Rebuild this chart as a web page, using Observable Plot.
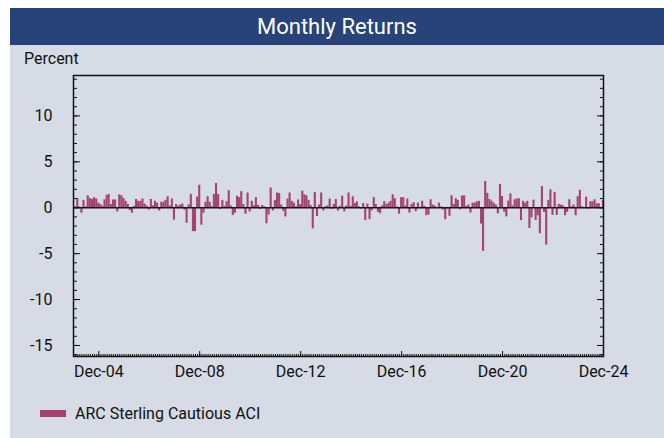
<!DOCTYPE html>
<html><head><meta charset="utf-8">
<script src="https://cdn.jsdelivr.net/npm/d3@7"></script>
<script src="https://cdn.jsdelivr.net/npm/@observablehq/plot@0.6"></script>
<style>
html,body{margin:0;padding:0;background:#fff;}
#wrap{position:relative;width:664px;height:438px;overflow:hidden;font-family:Roboto,"Liberation Sans",sans-serif;color:#111;}
#panel{position:absolute;left:10px;top:8px;width:654px;height:430px;background:#d6dbe5;}
#title{position:absolute;left:10px;top:8px;width:654px;height:37px;background:#27437a;color:#fff;font-family:Roboto,sans-serif;font-size:22px;line-height:37px;text-align:center;}
#ylab{position:absolute;left:24px;top:49px;font-size:16px;}
#chart{position:absolute;left:0;top:45px;}
#legend{position:absolute;left:40px;top:404px;font-size:16px;display:flex;align-items:center;}
#legend .sw{width:26px;height:7px;background:#a3416f;margin-right:9px;}
</style></head>
<body><div id="wrap">
<div id="panel"></div>
<div id="title">Monthly Returns</div>
<div id="ylab">Percent</div>
<div id="chart"></div>
<div id="legend"><div class="sw"></div><span>ARC Sterling Cautious ACI</span></div>
</div>
<script>
const seriesName = "ARC Sterling Cautious ACI";
// monthly returns (%), Dec 2003 .. Dec 2024
const returns = [
 -0.2, 0.1, 1.0, 0.1, -0.6, 0.8, 0.1, 1.3, 1.0, 0.9, 1.1, 0.95, 0.5, 0.35, 0.15, 0.85, 1.35, 1.45, 0.35, 0.85, 0.85, -0.45, 1.4, 1.3, 1.0, 0.7, 0.35, -0.3, -0.6, 0.15, 0.9, 0.7, 0.7, 0.95, 0.4, 0.2, -0.25, 0.9, 0.2, 0.7, 0.5, -0.35, 0.6, 0.6, 0.8, 1.2, 0.2, 0.95, -1.35, 0.35, 0.15,
 0.3, 0.4, -0.25, -1.7, 0.3, 1.45, -2.6, -2.6, 1.15, 2.45, -1.9, -0.6, 0.6, 1.2, 0.6, 0.1, 1.45, 2.65, 1.45, -0.2, 0.8, 0.15, 0.65, 1.85, 0.2, -0.85, -0.6, 1.25, 1.1, 1.75, 0.35, -0.7, 1.6, -0.45, 0.7, 0.2, 1.1, 0.25, -0.2, 0.25, 0.1, -1.75, -0.8, 2.15, -0.35, 0.8, 1.6, 1.55, 0.3, -0.4, -1.0,
 0.95, 1.6, 0.7, 0.5, 0.1, 0.85, 0.35, 1.8, 1.4, 1.3, 0.8, 0.25, -2.3, 1.65, -0.95, 0.3, 1.6, -0.35, 0.1, 0.2, 0.95, -0.2, 0.35, 0.9, -0.35, 0.15, 1.25, -0.45, 0.2, 1.6, 0.15, 1.2, 0.45, 0.65, 0.1, -0.15, 0.45, -1.4, 0.4, -1.3, -0.35, 1.1, 0.35, -0.5, -0.65, 0.2, 0.65, 0.35, 0.5, 0.7, 1.4,
 0.98, 0.1, -0.7, 1.1, 1.1, 0.2, 0.95, -0.58, 0.36, 0.54, -0.43, 0.5, -0.1, 0.7, 0.15, -0.87, -0.8, 0.87, 0.3, 0.2, -0.1, 0.5, 0.1, -0.25, -1.3, -0.15, -0.94, 1.3, 0.36, 0.98, 0.8, -0.22, 1.27, 1.3, 0.15, 0.3, -0.58, 0.5, 0.5, 0.65, 0.7, -1.77, -4.75, 2.86, 1.56, 0.9, 0.72, 0.5, 0.3, -0.65,
 2.54, 1.23, -0.47, -1.0, 0.72, 1.52, 0.2, 0.87, 0.95, 0.98, -1.4, 0.7, 0.5, 0.7, -2.25, -1.1, 0.83, -1.38, -0.87, -2.83, 2.3, -0.5, -4.06, 0.8, 1.96, -0.83, 1.67, -0.83, 0.36, 0.3, 0.2, -0.87, -0.5, 0.87, 0.1, 0.3, -0.87, 1.2, 1.9, 0.1, -0.1, 1.16, -0.15, 0.65, 0.65, 0.87, 0.43, 0.43, -0.1, 0.8
];
const startYear = 2003, startMonth = 11; // Dec 2003
const dates = returns.map((_, i) => new Date(Date.UTC(startYear, startMonth + i, 1)));
const data = returns.map((v, i) => ({date: dates[i], v}));

const tickLabels = ["Dec-04", "Dec-08", "Dec-12", "Dec-16", "Dec-20", "Dec-24"];
const tickDates = tickLabels.map(s => new Date(Date.UTC(2000 + +s.slice(4), 11, 1)));
const yLabels = [-15, -10, -5, 0, 5, 10];
const yMinor = d3.range(-16, 15);

const barColor = "#a3416f";
const fmtX = d => tickLabels[tickDates.findIndex(t => +t === +d)] ?? "";

const chart = Plot.plot({
  width: 664, height: 350,
  marginLeft: 73, marginRight: 61, marginTop: 30, marginBottom: 39,
  x: {type: "utc", domain: [dates[0], dates[dates.length - 1]]},
  y: {domain: [-16.2, 14.4]},
  style: {background: "transparent", color: "#111", fontFamily: 'Roboto,"Liberation Sans",sans-serif', fontSize: "16px", overflow: "visible"},
  marks: [
    Plot.rect(data, {x1: d => d3.utcDay.offset(d.date, -15), x2: d => d3.utcDay.offset(d.date, 15), y1: 0, y2: "v", fill: barColor, clip: true}),
    Plot.ruleY([0], {stroke: "#1c1418", strokeWidth: 1.6}),
    Plot.axisY(yMinor, {anchor: "left", tickSize: -4, tickFormat: () => "", label: null}),
    Plot.axisY(yLabels, {anchor: "left", tickSize: -7, tickFormat: () => "", label: null}),
    Plot.axisY(yMinor, {anchor: "right", tickSize: -4, tickFormat: () => "", label: null}),
    Plot.axisY(yLabels, {anchor: "right", tickSize: -7, tickFormat: () => "", label: null}),
    Plot.axisY(yLabels, {anchor: "left", tickSize: 0, tickPadding: 21, fontSize: 16, tickFormat: d => String(d), label: null}),
    Plot.axisX(dates, {tickSize: -2, tickFormat: () => "", label: null}),
    Plot.axisX(tickDates, {tickSize: -5, tickFormat: () => "", label: null}),
    Plot.axisX(tickDates, {tickSize: 0, tickPadding: 9, fontSize: 16, tickFormat: fmtX, label: null}),
    Plot.frame({stroke: "#111", strokeWidth: 1.5})
  ]
});
document.getElementById("chart").appendChild(chart);
</script>
</body></html>
